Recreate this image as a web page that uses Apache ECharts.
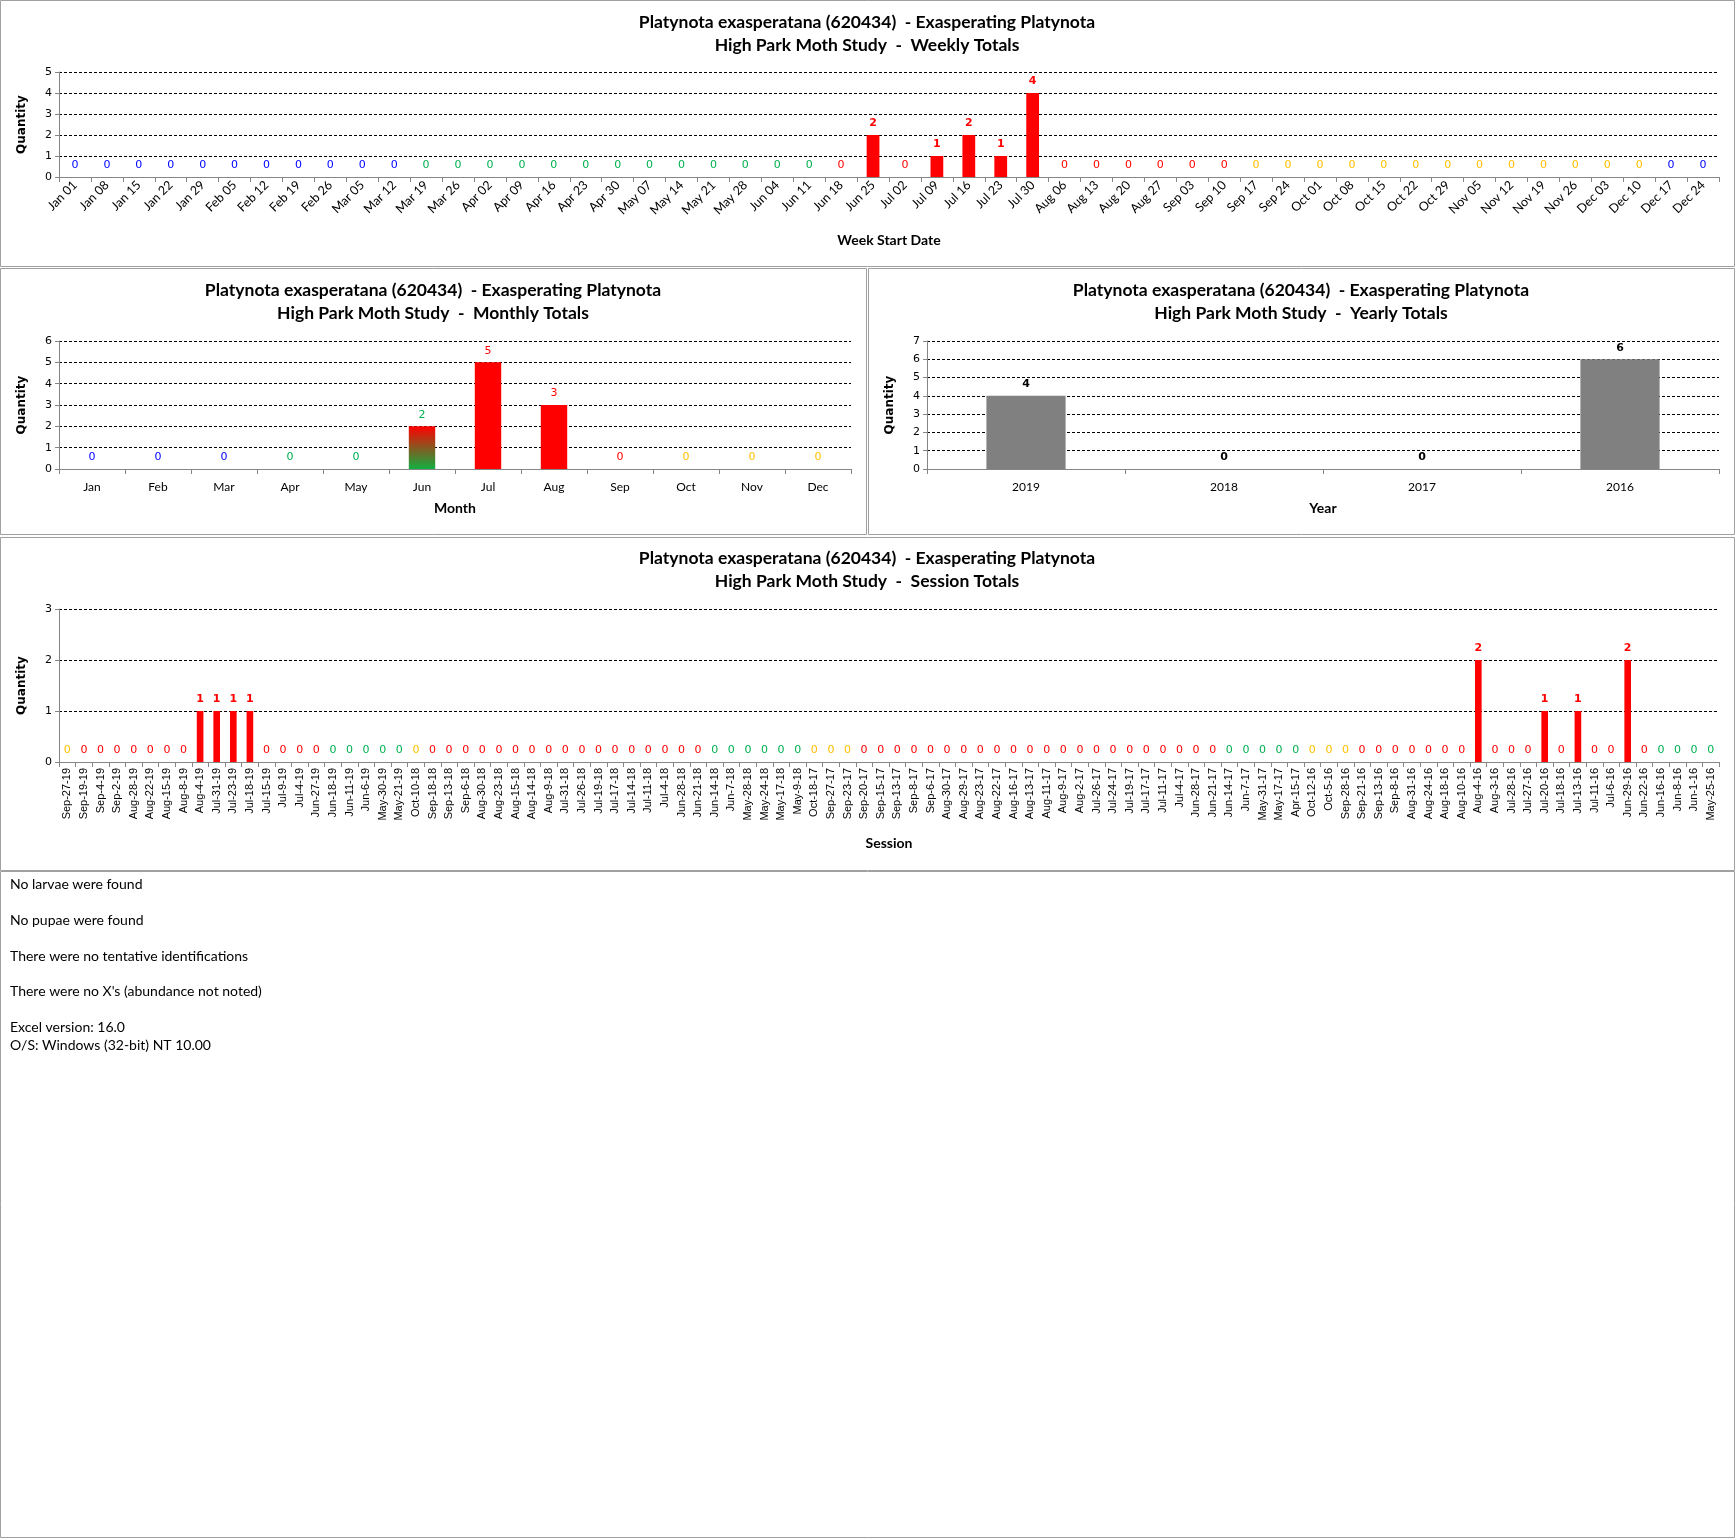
<!DOCTYPE html>
<html>
<head>
<meta charset="utf-8">
<script src="https://cdn.jsdelivr.net/npm/echarts@6/dist/echarts.min.js"></script>
<style>
  html, body { margin: 0; padding: 0; background: #fff; }
  #chart { width: 1736px; height: 1538px; }
</style>
</head>
<body>
<div id="chart"></div>
<script>
// season codes: B = winter, G = spring, R = summer, Y = fall
const weeks = ['Jan 01','Jan 08','Jan 15','Jan 22','Jan 29','Feb 05','Feb 12','Feb 19','Feb 26','Mar 05',
  'Mar 12','Mar 19','Mar 26','Apr 02','Apr 09','Apr 16','Apr 23','Apr 30','May 07','May 14',
  'May 21','May 28','Jun 04','Jun 11','Jun 18','Jun 25','Jul 02','Jul 09','Jul 16','Jul 23',
  'Jul 30','Aug 06','Aug 13','Aug 20','Aug 27','Sep 03','Sep 10','Sep 17','Sep 24','Oct 01',
  'Oct 08','Oct 15','Oct 22','Oct 29','Nov 05','Nov 12','Nov 19','Nov 26','Dec 03','Dec 10',
  'Dec 17','Dec 24'];
const weekQty = [0,0,0,0,0,0,0,0,0,0,
  0,0,0,0,0,0,0,0,0,0,
  0,0,0,0,0,2,0,1,2,1,
  4,0,0,0,0,0,0,0,0,0,
  0,0,0,0,0,0,0,0,0,0,
  0,0];
const weekSeason = ['B','B','B','B','B','B','B','B','B','B',
  'B','G','G','G','G','G','G','G','G','G',
  'G','G','G','G','R','R','R','R','R','R',
  'R','R','R','R','R','R','R','Y','Y','Y',
  'Y','Y','Y','Y','Y','Y','Y','Y','Y','Y',
  'B','B'];

const months = ['Jan','Feb','Mar','Apr','May','Jun','Jul','Aug','Sep','Oct','Nov','Dec'];
const monthQty = [0,0,0,0,0,2,5,3,0,0,0,0];
const monthSeason = ['B','B','B','G','G','G','R','R','R','Y','Y','Y'];
const monthBlended = ['Jun']; // bar shaded from spring into summer

const years = ['2019','2018','2017','2016'];
const yearQty = [4,0,0,6];

const sessions = [
  'Sep-27-19','Sep-19-19','Sep-4-19','Sep-2-19','Aug-28-19','Aug-22-19','Aug-15-19','Aug-8-19','Aug-4-19','Jul-31-19',
  'Jul-23-19','Jul-18-19','Jul-15-19','Jul-9-19','Jul-4-19','Jun-27-19','Jun-18-19','Jun-11-19','Jun-6-19','May-30-19',
  'May-21-19','Oct-10-18','Sep-18-18','Sep-13-18','Sep-6-18','Aug-30-18','Aug-23-18','Aug-15-18','Aug-14-18','Aug-9-18',
  'Jul-31-18','Jul-26-18','Jul-19-18','Jul-17-18','Jul-14-18','Jul-11-18','Jul-4-18','Jun-28-18','Jun-21-18','Jun-14-18',
  'Jun-7-18','May-28-18','May-24-18','May-17-18','May-9-18','Oct-18-17','Sep-27-17','Sep-23-17','Sep-20-17','Sep-15-17',
  'Sep-13-17','Sep-8-17','Sep-6-17','Aug-30-17','Aug-29-17','Aug-23-17','Aug-22-17','Aug-16-17','Aug-13-17','Aug-11-17',
  'Aug-9-17','Aug-2-17','Jul-26-17','Jul-24-17','Jul-19-17','Jul-17-17','Jul-11-17','Jul-4-17','Jun-28-17','Jun-21-17',
  'Jun-14-17','Jun-7-17','May-31-17','May-17-17','Apr-15-17','Oct-12-16','Oct-5-16','Sep-28-16','Sep-21-16','Sep-13-16',
  'Sep-8-16','Aug-31-16','Aug-24-16','Aug-18-16','Aug-10-16','Aug-4-16','Aug-3-16','Jul-28-16','Jul-27-16','Jul-20-16',
  'Jul-18-16','Jul-13-16','Jul-11-16','Jul-6-16','Jun-29-16','Jun-22-16','Jun-16-16','Jun-8-16','Jun-1-16','May-25-16'];
const sessionQty = [
  0,0,0,0,0,0,0,0,1,1,
  1,1,0,0,0,0,0,0,0,0,
  0,0,0,0,0,0,0,0,0,0,
  0,0,0,0,0,0,0,0,0,0,
  0,0,0,0,0,0,0,0,0,0,
  0,0,0,0,0,0,0,0,0,0,
  0,0,0,0,0,0,0,0,0,0,
  0,0,0,0,0,0,0,0,0,0,
  0,0,0,0,0,2,0,0,0,1,
  0,1,0,0,2,0,0,0,0,0];
const sessionSeason = [
  'Y','R','R','R','R','R','R','R','R','R',
  'R','R','R','R','R','R','G','G','G','G',
  'G','Y','R','R','R','R','R','R','R','R',
  'R','R','R','R','R','R','R','R','R','G',
  'G','G','G','G','G','Y','Y','Y','R','R',
  'R','R','R','R','R','R','R','R','R','R',
  'R','R','R','R','R','R','R','R','R','R',
  'G','G','G','G','G','Y','Y','Y','R','R',
  'R','R','R','R','R','R','R','R','R','R',
  'R','R','R','R','R','R','G','G','G','G'];

const notes = ['No larvae were found', 'No pupae were found', 'There were no tentative identifications',
  "There were no X's (abundance not noted)", 'Excel version: 16.0', 'O/S: Windows (32-bit) NT 10.00'];
const speciesLine = 'Platynota exasperatana (620434)  - Exasperating Platynota';

const seasonColor = { B: '#0000ff', G: '#00b050', R: '#ff0000', Y: '#ffc000' };
const RED = '#ff0000';
const junBlend = new echarts.graphic.LinearGradient(0, 0, 0, 1, [
  { offset: 0, color: '#ff0000' },
  { offset: 1, color: '#10b040' }
]);

const chart = echarts.init(document.getElementById('chart'), null, { renderer: 'canvas' });

const titleFont = 'bold 17.5px Lato';
const noteFont = '14px Lato';
const borderColor = '#a0a0a0';

function panel(x, y, w, h) {
  return { type: 'rect', shape: { x: x + 0.5, y: y + 0.5, width: w, height: h }, silent: true,
    style: { fill: null, stroke: borderColor, lineWidth: 1 } };
}
function text(str, x, y, font, align) {
  return { type: 'text', x: x, y: y, silent: true,
    style: { text: str, font: font, fill: '#000', align: align || 'center', verticalAlign: 'middle' } };
}

function xAx(idx, data, name, gap, label) {
  return {
    type: 'category', gridIndex: idx, data: data,
    name: name, nameLocation: 'middle', nameGap: gap,
    nameTextStyle: { fontFamily: 'Lato', fontWeight: 'bold', fontSize: 14, color: '#000' },
    axisLine: { lineStyle: { color: '#868686' } },
    axisTick: { show: true, length: 5, lineStyle: { color: '#868686' } },
    axisLabel: Object.assign({ interval: 0, color: '#000' }, label)
  };
}
function yAx(idx, max) {
  return {
    type: 'value', gridIndex: idx, min: 0, max: max, interval: 1,
    name: 'Quantity', nameLocation: 'middle', nameGap: 31, nameRotate: 90,
    nameTextStyle: { fontFamily: 'DejaVu Sans', fontWeight: 'bold', fontSize: 12, color: '#000' },
    axisLine: { show: true, lineStyle: { color: '#868686' } },
    axisTick: { show: true, length: 4, lineStyle: { color: '#868686' } },
    axisLabel: { fontFamily: 'DejaVu Sans', fontSize: 11, color: '#000', margin: 7 },
    splitLine: { show: true, lineStyle: { color: '#000', type: [3, 2], width: 1 } }
  };
}

const option = {
  animation: false,
  backgroundColor: '#fff',
  grid: [
    { left: 59, top: 72, width: 1660, height: 105, outerBoundsMode: 'none' },
    { left: 59, top: 341, width: 792, height: 128, outerBoundsMode: 'none' },
    { left: 927, top: 341, width: 792, height: 128, outerBoundsMode: 'none' },
    { left: 59, top: 609, width: 1660, height: 153, outerBoundsMode: 'none' }
  ],
  xAxis: [
    xAx(0, weeks, 'Week Start Date', 56, { rotate: 45, fontFamily: 'Lato', fontSize: 12.5, margin: 6 }),
    xAx(1, months, 'Month', 32, { fontFamily: 'Lato', fontSize: 12, margin: 12 }),
    xAx(2, years, 'Year', 32, { fontFamily: 'Lato', fontSize: 12, margin: 12 }),
    xAx(3, sessions, 'Session', 74, { rotate: 90, fontFamily: 'Liberation Sans', fontSize: 11, margin: 6 })
  ],
  yAxis: [yAx(0, 5), yAx(1, 6), yAx(2, 7), yAx(3, 3)],
  series: [
    {
      name: 'Weekly', type: 'bar', xAxisIndex: 0, yAxisIndex: 0, barWidth: '40%',
      itemStyle: { color: RED },
      label: { show: true, position: 'top', distance: 6, fontFamily: 'DejaVu Sans', fontSize: 11 },
      data: weekQty.map((v, i) => ({ value: v,
        label: { color: seasonColor[weekSeason[i]], fontWeight: v > 0 ? 'bold' : 'normal' } }))
    },
    {
      name: 'Monthly', type: 'bar', xAxisIndex: 1, yAxisIndex: 1, barWidth: '40%',
      label: { show: true, position: 'top', distance: 6, fontFamily: 'DejaVu Sans', fontSize: 11 },
      data: monthQty.map((v, i) => ({ value: v,
        itemStyle: { color: monthBlended.indexOf(months[i]) >= 0 ? junBlend : RED },
        label: { color: seasonColor[monthSeason[i]] } }))
    },
    {
      name: 'Yearly', type: 'bar', xAxisIndex: 2, yAxisIndex: 2, barWidth: '40%',
      itemStyle: { color: '#808080' },
      label: { show: true, position: 'top', distance: 6, fontFamily: 'DejaVu Sans', fontSize: 11,
        fontWeight: 'bold', color: '#000' },
      data: yearQty
    },
    {
      name: 'Session', type: 'bar', xAxisIndex: 3, yAxisIndex: 3, barWidth: '40%',
      itemStyle: { color: RED },
      label: { show: true, position: 'top', distance: 6, fontFamily: 'DejaVu Sans', fontSize: 11 },
      data: sessionQty.map((v, i) => ({ value: v,
        label: { color: seasonColor[sessionSeason[i]], fontWeight: v > 0 ? 'bold' : 'normal' } }))
    }
  ],
  graphic: [
    panel(0, 0, 1734, 266),
    panel(0, 268, 866, 266),
    panel(868, 268, 866, 266),
    panel(0, 537, 1734, 333),
    panel(0, 871, 1734, 666),
    text(speciesLine, 867, 22, titleFont),
    text('High Park Moth Study  -  Weekly Totals', 867, 45, titleFont),
    text(speciesLine, 433, 290, titleFont),
    text('High Park Moth Study  -  Monthly Totals', 433, 313, titleFont),
    text(speciesLine, 1301, 290, titleFont),
    text('High Park Moth Study  -  Yearly Totals', 1301, 313, titleFont),
    text(speciesLine, 867, 558, titleFont),
    text('High Park Moth Study  -  Session Totals', 867, 581, titleFont),
    text(notes[0], 10, 884, noteFont, 'left'),
    text(notes[1], 10, 920, noteFont, 'left'),
    text(notes[2], 10, 956, noteFont, 'left'),
    text(notes[3], 10, 991, noteFont, 'left'),
    text(notes[4], 10, 1027, noteFont, 'left'),
    text(notes[5], 10, 1045, noteFont, 'left')
  ]
};

chart.setOption(option);
</script>
</body>
</html>
